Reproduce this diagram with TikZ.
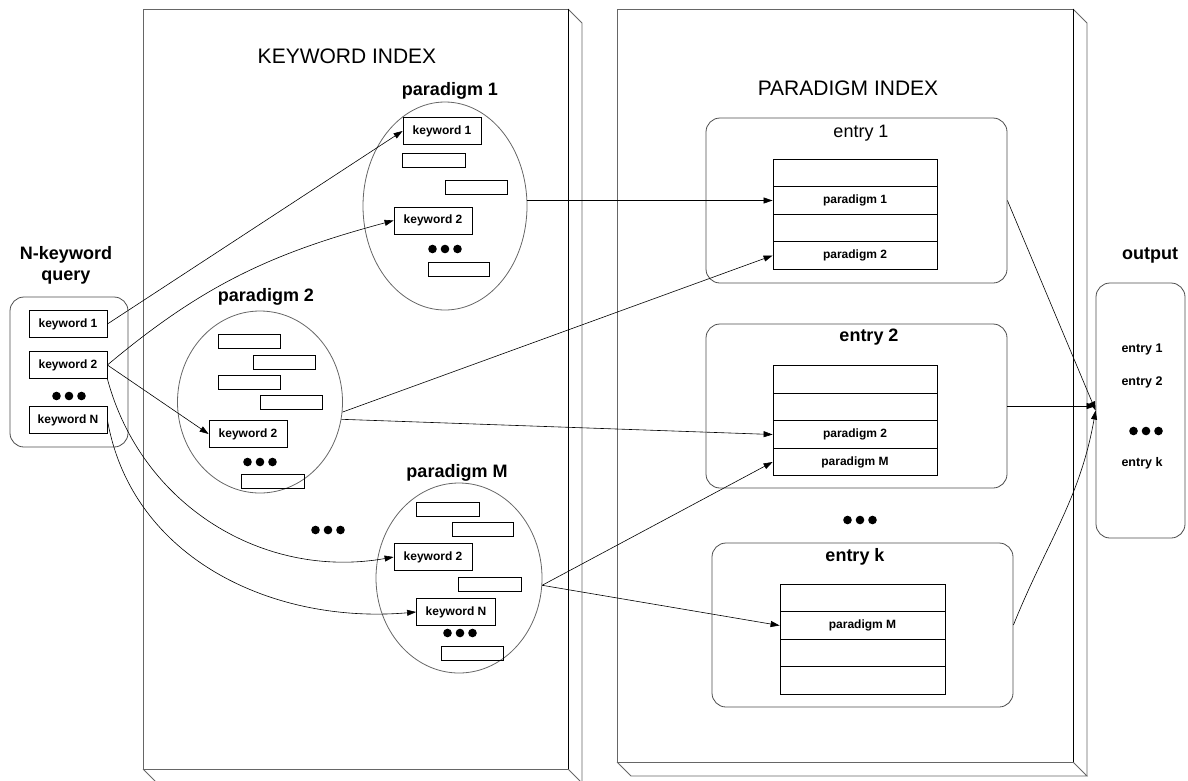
\documentclass[tikz,border=0pt]{standalone}
\usepackage{fontspec}
\setmainfont{Liberation Sans}
\usepackage{tikz}
\usetikzlibrary{positioning,arrows.meta,shapes.geometric}

% three big dots centred on a named coordinate
\newcommand{\dotrow}[1]{\foreach \i in {-1,0,1} \fill ([xshift=\i*12.5pt]#1) circle (4.3pt);}

\tikzset{
  kwbox/.style={rectangle, draw, line width=0.8pt, minimum width=78pt, minimum height=27pt, inner sep=0pt, font=\fontsize{12}{14}\selectfont\bfseries},
  emptybox/.style={rectangle, draw, line width=0.8pt, minimum width=62pt, minimum height=14pt, inner sep=0pt},
  pdellipse/.style={ellipse, draw=black!60, line width=0.8pt, inner sep=0pt},
  row/.style={rectangle, draw, line width=0.8pt, minimum width=164pt, minimum height=27.5pt, inner sep=0pt, font=\fontsize{12}{14}\selectfont\bfseries},
  roundbox/.style={rectangle, rounded corners=14pt, draw=black!70, line width=0.8pt, inner sep=0pt},
  panel/.style={draw=black!60, line width=0.9pt},
  title/.style={font=\fontsize{21}{24}\selectfont},
  head/.style={font=\fontsize{18}{21}\selectfont\bfseries},
  outitem/.style={font=\fontsize{12.5}{14}\selectfont\bfseries},
  link/.style={-{Triangle[length=9pt,width=6pt]}, line width=0.6pt},
}

\begin{document}
\begin{tikzpicture}[x=1pt, y=-1pt]
\useasboundingbox (0,0) rectangle (1188,780);

% keyword index panel
\draw[panel] (143,9) rectangle (568,769);
\draw[panel] (568,9) -- (582,23) -- (582,783);
\draw[panel] (143,769) -- (157,783) -- (582,783) -- (568,769);
\draw[line width=0.9pt] (568,9) -- (568,769);
\node[title] (kwtitle) at (347,56) {KEYWORD INDEX};

% paradigm index panel
\draw[panel] (617,9) rectangle (1073,762);
\draw[panel] (1073,9) -- (1087,23) -- (1087,776);
\draw[panel] (617,762) -- (631,776) -- (1087,776) -- (1073,762);
\draw[line width=0.9pt] (1073,9) -- (1073,762);
\node[title] (pdtitle) at (848,88) {PARADIGM INDEX};

% query
\node[head, align=center] (qlabel) at (66,265) {N-keyword\\query};
\node[roundbox, minimum width=118pt, minimum height=150pt] (query) at (69,372) {};
\node[kwbox] (qk1) at (68,324) {keyword 1};
\node[kwbox] (qk2) at (68,365) {keyword 2};
\coordinate (qdots) at (69,396);
\dotrow{qdots}
\node[kwbox] (qkN) at (68,420) {keyword N};

% paradigm 1
\node[head] (p1label) at (450,91) {paradigm 1};
\node[pdellipse, minimum width=164pt, minimum height=208pt] (p1) at (445,206) {};
\node[kwbox] (p1k1) at (442,131) {keyword 1};
\node[emptybox, minimum width=63pt] (p1e1) at (434,160) {};
\node[emptybox] (p1e2) at (476,187) {};
\node[kwbox] (p1k2) at (433,220.5) {keyword 2};
\coordinate (p1dots) at (445,249);
\dotrow{p1dots}
\node[emptybox, minimum width=61pt] (p1e3) at (459,269) {};

% paradigm 2
\node[head] (p2label) at (266,297) {paradigm 2};
\node[pdellipse, minimum width=165pt, minimum height=182pt] (p2) at (260,402) {};
\node[emptybox] (p2e1) at (249,341) {};
\node[emptybox] (p2e2) at (284,362) {};
\node[emptybox] (p2e3) at (249,382.5) {};
\node[emptybox] (p2e4) at (291,402.5) {};
\node[kwbox] (p2k2) at (248,434) {keyword 2};
\coordinate (p2dots) at (260,462);
\dotrow{p2dots}
\node[emptybox, minimum width=63pt] (p2e5) at (273,481) {};

\coordinate (middots) at (328,530);
\dotrow{middots}

% paradigm M
\node[head] (pMlabel) at (457,473) {paradigm M};
\node[pdellipse, minimum width=166pt, minimum height=190pt] (pM) at (459,578) {};
\node[emptybox, minimum width=63pt] (pMe1) at (448,509) {};
\node[emptybox, minimum width=61pt] (pMe2) at (483,529.5) {};
\node[kwbox] (pMk2) at (433,557) {keyword 2};
\node[emptybox, minimum width=63pt] (pMe3) at (490,584) {};
\node[kwbox, minimum width=79pt] (pMkN) at (456,612) {keyword N};
\coordinate (pMdots) at (460,633);
\dotrow{pMdots}
\node[emptybox] (pMe4) at (472,653) {};

% entry 1
\node[roundbox, minimum width=301pt, minimum height=165pt] (entry1) at (856.5,200.5) {};
\node[font=\fontsize{18}{20}\selectfont] (e1label) at (861,133) {entry 1};
\node[row] (e1r1) at (855,173) {};
\node[row] (e1r2) at (855,200.5) {paradigm 1};
\node[row] (e1r3) at (855,228) {};
\node[row] (e1r4) at (855,255.5) {paradigm 2};

% entry 2
\node[roundbox, minimum width=301pt, minimum height=164pt] (entry2) at (856.5,406) {};
\node[head] (e2label) at (869,337) {entry 2};
\node[row] (e2r1) at (855,379.5) {};
\node[row] (e2r2) at (855,407) {};
\node[row] (e2r3) at (855,434.5) {paradigm 2};
\node[row] (e2r4) at (855,462) {paradigm M};

\coordinate (edots) at (860,520);
\dotrow{edots}

% entry k
\node[roundbox, minimum width=301pt, minimum height=164pt] (entryk) at (862.5,625) {};
\node[head] (eklabel) at (855,557) {entry k};
\node[row, minimum width=165pt] (ekr1) at (862.5,598) {};
\node[row, minimum width=165pt] (ekr2) at (862.5,625.5) {paradigm M};
\node[row, minimum width=165pt] (ekr3) at (862.5,653) {};
\node[row, minimum width=165pt] (ekr4) at (862.5,680.5) {};

% output
\node[head] (outlabel) at (1150,255) {output};
\node[roundbox, minimum width=89pt, minimum height=255pt] (output) at (1140.5,410.5) {};
\node[outitem] (o1) at (1142,349) {entry 1};
\node[outitem] (o2) at (1142,382) {entry 2};
\coordinate (odots) at (1146,431);
\dotrow{odots}
\node[outitem] (ok) at (1142,463) {entry k};

% query -> keyword index
\draw[link] (qk1.east) -- (p1k1.west);
\draw[link] (qk2.east) to[out=40, in=195] (p1k2.west);
\draw[link] (qk2.east) -- (p2k2.west);
\draw[link] (qk2.south east) to[out=-75, in=190] (pMk2.west);
\draw[link] (qkN.east) to[out=-80, in=185] (pMkN.west);

% keyword index -> paradigm index
\draw[link] (e1r2.west -| p1.east) -- (e1r2.west);
\draw[link] (p2.-7) -- (e1r4.west);
\draw[link] (p2.-12) -- (e2r3.west);
\draw[link] (pM.-5) -- (e2r4.west);
\draw[link] (pM.-5) -- (ekr2.west);

% paradigm index -> output
\draw[link] (entry1.east) -- (output.west);
\draw[link] (entry2.east) -- (entry2.east -| output.west);
\draw[link] (entryk.east) to[out=68, in=260] (output.west);

\end{tikzpicture}
\end{document}
